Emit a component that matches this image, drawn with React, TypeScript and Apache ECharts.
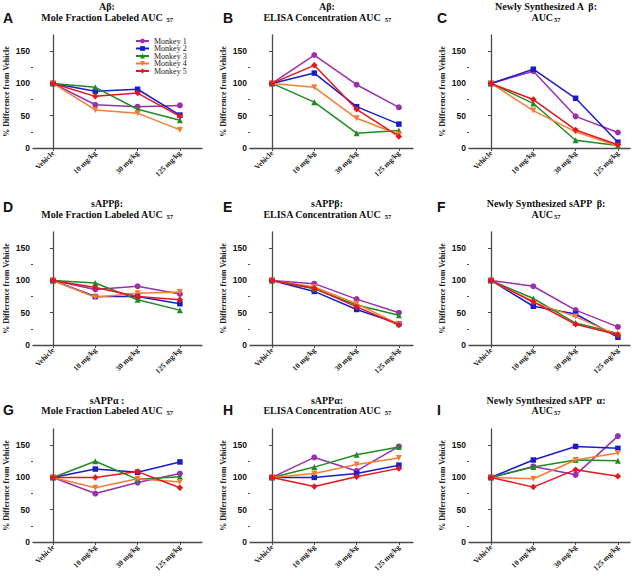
import React, { useEffect, useRef } from "react";
import * as echarts from "echarts";

const categories = ["Vehicle", "10 mg/kg", "30 mg/kg", "125 mg/kg"];
const monkeys = ["Monkey 1", "Monkey 2", "Monkey 3", "Monkey 4", "Monkey 5"];
const yTicks = [0, 50, 100, 150];
const yMinorTicks = [25, 75, 125];
const yMax = 175;

// rows: Monkey 1..5, columns: Vehicle, 10, 30, 125 mg/kg
const panelA = [[100, 67, 64, 66], [100, 88, 91, 51], [100, 94, 60, 43], [100, 59, 54, 28], [100, 80, 85, 49]];
const panelB = [[100, 144, 98, 63], [100, 116, 64, 37], [100, 71, 23, 27], [100, 94, 46, 21], [100, 128, 60, 18]];
const panelC = [[100, 119, 49, 24], [100, 122, 77, 9], [100, 69, 12, 4], [100, 58, 25, 3], [100, 75, 28, 5]];
const panelD = [[100, 86, 91, 79], [100, 75, 75, 64], [100, 96, 70, 54], [100, 74, 80, 82], [100, 89, 75, 70]];
const panelE = [[100, 95, 71, 50], [100, 83, 55, 33], [100, 87, 62, 46], [100, 90, 64, 32], [100, 88, 59, 31]];
const panelF = [[100, 91, 54, 28], [100, 60, 48, 12], [100, 72, 34, 18], [100, 66, 44, 15], [100, 67, 32, 16]];
const panelG = [[100, 75, 92, 106], [100, 113, 108, 124], [100, 125, 97, 101], [100, 84, 98, 93], [100, 100, 109, 84]];
const panelH = [[100, 131, 110, 148], [100, 100, 106, 119], [100, 116, 135, 147], [100, 106, 120, 130], [100, 86, 101, 114]];
const panelI = [[100, 117, 104, 164], [100, 127, 148, 145], [100, 116, 127, 126], [100, 98, 127, 138], [100, 85, 112, 102]];

const panels = [panelA, panelB, panelC, panelD, panelE, panelF, panelG, panelH, panelI];
const panelLetters = ["A", "B", "C", "D", "E", "F", "G", "H", "I"];
const titleLine1 = [
  "Aβ:", "Aβ:", "Newly Synthesized A  β:",
  "sAPPβ:", "sAPPβ:", "Newly Synthesized sAPP  β:",
  "sAPPα :", "sAPPα:", "Newly Synthesized sAPP  α:",
];
const titleLine2 = [
  "Mole Fraction Labeled AUC ", "ELISA Concentration AUC ", "AUC",
  "Mole Fraction Labeled AUC ", "ELISA Concentration AUC ", "AUC",
  "Mole Fraction Labeled AUC ", "ELISA Concentration AUC ", "AUC",
];
const titleSub = "57";
const yAxisName = "% Difference from Vehicle";

const colors = ["#9a2fb0", "#1c1cc8", "#1f8c22", "#f47c35", "#e8161c"];
const symbols = ["circle", "rect", "triangle", "triangle", "diamond"];
const symbolRotates = [0, 0, 0, 180, 0];
const symbolSizes = [6, 5.5, 6, 6, 6.5];

// layout
const colLeft = [33, 250, 469];
const colWidth = [169, 163, 161];
const vehOffset = [20, 22, 22];
const catSpacing = 42.3;
const rowTop = [35, 232, 429];
const gridH = 113;
const titleX = [107, 327, 546];
const titleY1 = [6, 203, 400];
const titleY2 = [17, 214, 410];
const letterX = [3, 223, 437];
const letterY = [18, 207, 410];

const SERIF = "Liberation Serif";
const SANS = "Liberation Sans";
const AXIS_COLOR = "#4a4a4a";

export default function App() {
  const ref = useRef<HTMLDivElement>(null);
  useEffect(() => {
    if (!ref.current) return;
    const chart = echarts.init(ref.current, null, { renderer: "svg" });
    const grid: any[] = [];
    const xAxis: any[] = [];
    const yAxis: any[] = [];
    const series: any[] = [];
    const graphic: any[] = [];
    panels.forEach((panel, i) => {
      const r = Math.floor(i / 3);
      const c = i % 3;
      grid.push({ left: colLeft[c], top: rowTop[r], width: colWidth[c], height: gridH });
      const xMin = -vehOffset[c] / catSpacing;
      const xMaxV = xMin + colWidth[c] / catSpacing;
      xAxis.push({
        type: "value",
        gridIndex: i,
        min: xMin,
        max: xMaxV,
        axisLine: { show: true, onZero: false, lineStyle: { color: AXIS_COLOR, width: 1.3 } },
        axisTick: { show: true, customValues: [0, 1, 2, 3], length: 3, lineStyle: { color: AXIS_COLOR, width: 1 } },
        axisLabel: {
          customValues: [0, 1, 2, 3],
          formatter: (v: number) => categories[Math.round(v)] ?? "",
          rotate: 45,
          margin: 4,
          fontSize: 7.5,
          fontWeight: "bold",
          fontFamily: SERIF,
          color: "#222",
        },
        splitLine: { show: false },
      });
      yAxis.push({
        type: "value",
        gridIndex: i,
        position: "left",
        min: 0,
        max: yMax,
        name: yAxisName,
        nameLocation: "middle",
        nameGap: 23,
        nameTextStyle: { fontSize: 8, fontWeight: "bold", fontFamily: SERIF, color: "#222" },
        axisLine: { show: true, lineStyle: { color: AXIS_COLOR, width: 1.3 } },
        axisTick: { show: true, customValues: yTicks, length: 3, lineStyle: { color: AXIS_COLOR, width: 1 } },
        axisLabel: {
          customValues: yTicks,
          margin: 3,
          fontSize: 8.5,
          fontWeight: "bold",
          fontFamily: SANS,
          color: "#111",
        },
        splitLine: { show: false },
      });
      yAxis.push({
        type: "value",
        gridIndex: i,
        position: "left",
        offset: 0,
        min: 0,
        max: yMax,
        axisLine: { show: false },
        axisTick: { show: true, customValues: yMinorTicks, length: 2, lineStyle: { color: AXIS_COLOR, width: 1 } },
        axisLabel: { show: false },
        splitLine: { show: false },
      });
      panel.forEach((vals, m) => {
        series.push({
          type: "line",
          name: monkeys[m],
          xAxisIndex: i,
          yAxisIndex: 2 * i,
          data: vals.map((v, k) => [k, v]),
          symbol: symbols[m],
          symbolRotate: symbolRotates[m],
          symbolSize: symbolSizes[m],
          showAllSymbol: true,
          color: colors[m],
          lineStyle: { width: 1.5, color: colors[m] },
          itemStyle: { color: colors[m] },
          z: 2 + m,
        });
      });
      graphic.push({
        type: "text",
        x: letterX[c],
        y: letterY[r],
        style: {
          text: panelLetters[i],
          fontFamily: SANS,
          fontWeight: "bold",
          fontSize: 14,
          fill: "#111",
          textVerticalAlign: "middle",
        },
      });
      graphic.push({
        type: "text",
        x: titleX[c],
        y: titleY1[r],
        style: {
          text: titleLine1[i],
          fontFamily: SERIF,
          fontWeight: "bold",
          fontSize: 10,
          fill: "#111",
          textAlign: "center",
          textVerticalAlign: "middle",
        },
      });
      graphic.push({
        type: "text",
        x: titleX[c],
        y: titleY2[r],
        style: {
          text: titleLine2[i] + "{s|" + titleSub + "}",
          fontFamily: SERIF,
          fontWeight: "bold",
          fontSize: 10,
          fill: "#111",
          textAlign: "center",
          textVerticalAlign: "middle",
          rich: {
            s: { fontFamily: SERIF, fontWeight: "bold", fontSize: 6.5, fill: "#111", padding: [5, 0, 0, 1] },
          },
        },
      });
    });
    chart.setOption({
      animation: false,
      backgroundColor: "#ffffff",
      textStyle: { fontFamily: SERIF },
      grid,
      xAxis,
      yAxis,
      series,
      graphic,
      legend: {
        data: monkeys,
        orient: "vertical",
        left: 130,
        top: 32,
        itemWidth: 13,
        itemHeight: 6,
        itemGap: -0.5,
        textStyle: { fontFamily: SERIF, fontWeight: "normal", fontSize: 8, color: "#222" },
        selectedMode: false,
      },
    });
    return () => chart.dispose();
  }, []);
  return <div ref={ref} style={{ width: 640, height: 576, position: "absolute", left: 0, top: 0 }} />;
}
